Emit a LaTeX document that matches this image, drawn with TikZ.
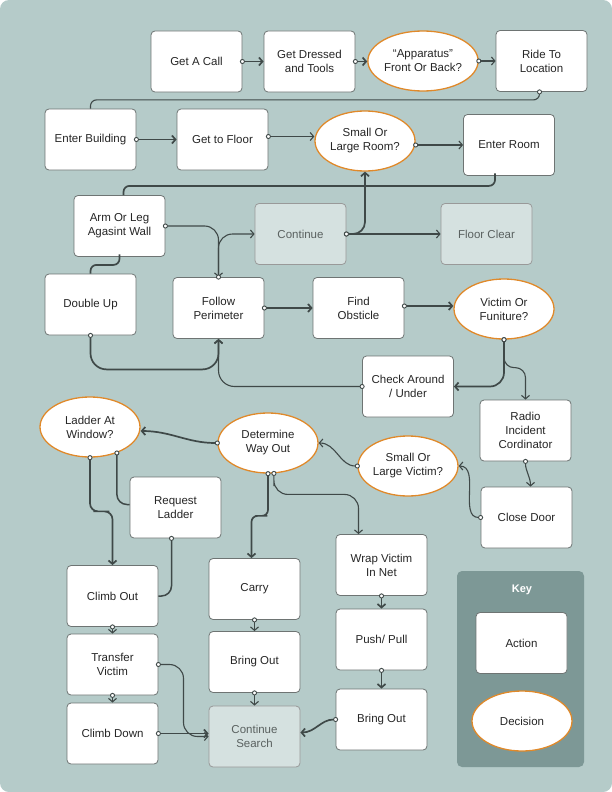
\documentclass[tikz,border=0pt]{standalone}
\usepackage{fontspec}
\setmainfont{Liberation Sans}
\usetikzlibrary{arrows.meta,shapes.geometric,calc}
\definecolor{bg}{HTML}{B5CBC9}
\definecolor{keybg}{HTML}{7D9896}
\definecolor{edge}{HTML}{3F4948}
\definecolor{orng}{HTML}{E0892A}
\definecolor{boxb}{HTML}{6E7473}
\definecolor{grayfill}{HTML}{D5E1E0}
\definecolor{graytext}{HTML}{5A6160}
\begin{document}
\begin{tikzpicture}[x=1pt,y=-1pt,
  every node/.style={font=\fontsize{11.5}{14}\selectfont, align=center, text=black!85},
  act/.style={draw=boxb, line width=0.8pt, fill=white, rounded corners=4pt, minimum width=91pt, minimum height=61pt, inner sep=2pt},
  gry/.style={act, fill=grayfill, text=graytext, draw=gray!80},
  dec/.style={ellipse, draw=orng, line width=1.3pt, fill=white, minimum width=100pt, minimum height=60pt, inner sep=0pt},
  conn/.style={draw=edge, line width=1.1pt, shorten <=-2.5pt,
    {Circle[open,fill=white,length=5pt,line width=0.9pt]}-{Straight Barb[length=3.5pt,width=8pt]}},
  thk/.style={conn, line width=1.7pt},
  conn0/.style={draw=edge, line width=1.1pt, shorten <=-2.5pt,
    {Circle[open,fill=white,length=5pt,line width=0.9pt]}-},
]
\useasboundingbox (0,0) rectangle (612,792);
\fill[white] (0,0) rectangle (612,792);
\fill[bg, rounded corners=9pt] (0,0) rectangle (612,792);

% key
\node[fill=keybg, rounded corners=5pt, minimum width=127pt, minimum height=196pt, inner sep=0pt] (keybox) at (520.5,669) {};
\node[text=white, font=\bfseries\fontsize{11}{13}\selectfont] (keytitle) at (522,590) {Key};
\node[act] (kact) at (521.5,643) {Action};
\node[dec] (kdec) at (522,721) {Decision};

% row 1
\node[act] (call) at (196.5,61.5) {Get A Call};
\node[act] (dress) at (309.5,61.5) {Get Dressed\\and Tools};
\node[dec] (app) at (423,61) {“Apparatus”\\Front Or Back?};
\node[act] (ride) at (541.5,61) {Ride To\\Location};
% row 2
\node[act] (enter) at (90.5,139.5) {Enter Building};
\node[act] (floor) at (222.5,139.5) {Get to Floor};
\node[dec] (sroom) at (365,141) {Small Or\\Large Room?};
\node[act] (eroom) at (509,145) {Enter Room};
% row 3
\node[act] (arm) at (119.5,226) {Arm Or Leg\\Agasint Wall};
\node[gry] (cont) at (300.5,234) {Continue};
\node[gry] (fclear) at (486.5,234) {Floor Clear};
% row 4
\node[act] (dbl) at (90.5,304.5) {Double Up};
\node[act] (fp) at (218.5,308) {Follow\\Perimeter};
\node[act] (find) at (358.5,308) {Find\\Obsticle};
\node[dec] (vic) at (504,309) {Victim Or\\Funiture?};
% row 5
\node[act] (chk) at (408,386.5) {Check Around\\/ Under};
\node[act] (radio) at (525.5,430.5) {Radio\\Incident\\Cordinator};
\node[dec] (lad) at (90,427) {Ladder At\\Window?};
\node[dec] (dwo) at (268,443) {Determine\\Way Out};
\node[dec] (slv) at (408,466) {Small Or\\Large Victim?};
\node[act] (cdoor) at (526.5,517.5) {Close Door};
\node[act] (reql) at (175.5,507.5) {Request\\Ladder};
% bottom
\node[act] (clo) at (112.5,596) {Climb Out};
\node[act] (tv) at (112.5,664.5) {Transfer\\Victim};
\node[act] (cd) at (112.5,733.5) {Climb Down};
\node[act] (carry) at (254.5,589) {Carry};
\node[act] (bo1) at (254.5,662) {Bring Out};
\node[gry] (cs) at (254.5,736.5) {Continue\\Search};
\node[act] (wrap) at (381.5,565) {Wrap Victim\\In Net};
\node[act] (pp) at (381.5,639.5) {Push/ Pull};
\node[act] (bo2) at (381.5,719.5) {Bring Out};

% connectors
\draw[thk] (call.east) -- (dress.west);
\draw[thk] (dress.east) -- (app.west |- dress.east);
\draw[conn] (app.east) -- (ride.west |- app.east);
\draw[conn0, rounded corners=6pt] ([xshift=-2pt]ride.south) -- ++(0,8) -| (enter.north);
\draw[thk] (enter.east) -- (floor.west);
\draw[conn] ([yshift=3pt]floor.east) -- ([yshift=3pt]floor.east -| sroom.west);
\draw[conn] (sroom.east |- eroom.west) -- (eroom.west);
\draw[thk, -, rounded corners=6pt] ([xshift=-14pt]eroom.south) -- ++(0,10) -| ([xshift=4pt]arm.north);
\draw[conn, rounded corners=14pt] (arm.east) -| (fp.north);
\draw[conn, rounded corners=14pt] (fp.north) |- (cont.west);
\draw[conn] (cont.east) -- (fclear.west);
\draw[thk, rounded corners=12pt] (cont.east) -| (sroom.south);
\draw[thk, -, rounded corners=6pt] (arm.south) -- ++(0,8) -| (dbl.north);
\draw[thk, rounded corners=16pt] (dbl.south) -- ++(0,34) -| (fp.south);
\draw[thk] (fp.east) -- (find.west);
\draw[thk] ([yshift=2pt]find.east) -- ([yshift=2pt]find.east -| vic.west);
\draw[thk, rounded corners=14pt] (vic.south) |- (chk.east);
\draw[conn, rounded corners=10pt] (vic.south) -- ++(0,28) -| (radio.north);
\draw[conn, rounded corners=16pt] (chk.west) -| (fp.south);
\draw[thk] (dwo.west) to[out=180,in=0] ([yshift=-4pt]lad.east);
\draw[conn] (slv.west) to[out=180,in=0] (dwo.east);
\draw[conn] (radio.south) to[out=-90,in=90] ([xshift=4pt]cdoor.north);
\draw[conn] (cdoor.west) to[out=180,in=0] (slv.east);
\draw[thk, rounded corners=8pt] (lad.south) |- ($(lad.south)!0.5!(clo.north)$) -| (clo.north);
\draw[conn0, line width=1.5pt, rounded corners=10pt] (lad.-44) |- ([yshift=3pt]reql.west);
\draw[conn0, line width=1.5pt, rounded corners=10pt] ([xshift=-4pt]reql.south) |- (clo.east);
\draw[thk, rounded corners=6pt] (dwo.south) |- ($(dwo.south)!0.5!(carry.north)$) -| ([xshift=-3pt]carry.north);
\draw[conn, rounded corners=14pt] (dwo.-79) |- ($(dwo.-79)+(0,21)$) -| ([xshift=-23pt]wrap.north);
\draw[conn] (clo.south) -- (tv.north);
\draw[conn] (tv.south) -- (cd.north);
\draw[conn] (carry.south) -- (bo1.north);
\draw[conn] (bo1.south) -- (cs.north);
\draw[thk] (wrap.south) -- (pp.north);
\draw[thk] (pp.south) -- (bo2.north);
\draw[conn, rounded corners=14pt] (tv.east) -| ($(tv.east)!0.5!(cs.west)$) |- (cs.west);
\draw[thk] (cd.east) -- (cd.east -| cs.west);
\draw[thk] (bo2.west) to[out=180,in=0] ([yshift=4pt]cs.east);
\end{tikzpicture}
\end{document}
